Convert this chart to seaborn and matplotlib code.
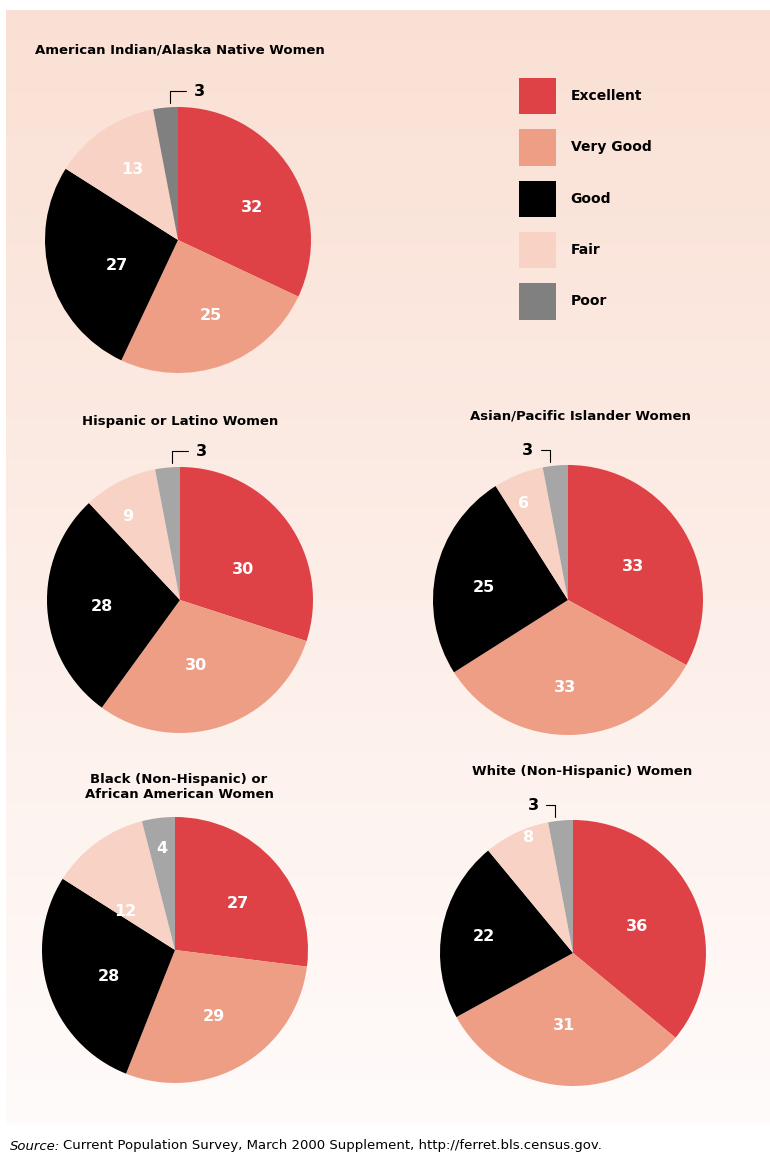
import numpy as np
import matplotlib
matplotlib.use("Agg")
import matplotlib.pyplot as plt
from matplotlib.patches import Patch
from matplotlib import font_manager
import seaborn as sns

# Data
categories = ['Excellent', 'Very Good', 'Good', 'Fair', 'Poor']
groups = ['American Indian/Alaska Native Women',
          'Hispanic or Latino Women',
          'Asian/Pacific Islander Women',
          'Black (Non-Hispanic) or\nAfrican American Women',
          'White (Non-Hispanic) Women']
american_indian = [32, 25, 27, 13, 3]
hispanic = [30, 30, 28, 9, 3]
asian = [33, 33, 25, 6, 3]
black = [27, 29, 28, 12, 4]
white = [36, 31, 22, 8, 3]
series = [american_indian, hispanic, asian, black, white]
source_note = 'Current Population Survey, March 2000 Supplement, http://ferret.bls.census.gov.'

# Style
sns.set_style('white')
plt.rcParams['font.family'] = ['DejaVu Sans']
plt.rcParams['text.color'] = 'black'
palette = sns.color_palette(['#de4246', '#ef9e86', '#000000', '#f8d2c4', '#808080'])
poor_colors = ['#808080', '#a6a6a6', '#a6a6a6', '#a6a6a6', '#a6a6a6']

W, H = 770, 1162
# pie centre x, centre y, radius, title x, title y (pixels)
layout = [(178, 240, 133, 180, 50),
          (180, 600, 133, 180, 421),
          (568, 600, 135, 580, 416),
          (175, 950, 133, 179, 787),
          (573, 953, 133, 582, 772)]
# label placement: fraction of radius and angle shift (deg) from wedge middle
label_dist = [[0.61, 0.62, 0.50, 0.63, 0.0],
              [0.53, 0.51, 0.59, 0.74, 0.0],
              [0.54, 0.65, 0.63, 0.79, 0.0],
              [0.59, 0.58, 0.54, 0.47, 0.77],
              [0.52, 0.55, 0.68, 0.93, 0.0]]
label_shift = [[-9, 4, 6, -1, 0],
               [-10, -4, 1.5, 5, 0],
               [-3, -4, 4, 3, 0],
               [-5, 0, 4, 16, 0],
               [-3, -2, 0, -4, 0]]
callout_side = ['right', 'right', 'left', None, 'left']

fig = plt.figure(figsize=(W / 100, H / 100), dpi=100)
fig.patch.set_facecolor('white')

# background panel with vertical gradient
bg = fig.add_axes([0, 0, 1, 1])
bg.set_xlim(0, W)
bg.set_ylim(H, 0)
bg.axis('off')
top = np.array([250, 224, 212]) / 255
bottom = np.array([255, 251, 250]) / 255
t = np.linspace(0, 1, 256)[:, None, None]
grad = top * (1 - t) + bottom * t
bg.imshow(grad, extent=(6, W, 1125, 10), aspect='auto')

for i, vals in enumerate(series):
    cx, cy, r, tx, ty = layout[i]
    ax = fig.add_axes([(cx - r) / W, 1 - (cy + r) / H, 2 * r / W, 2 * r / H])
    cols = list(palette[:4]) + [poor_colors[i]]
    wedges, _ = ax.pie(vals, colors=cols, startangle=90, counterclock=False,
                       radius=1, wedgeprops=dict(linewidth=0))
    ax.set_xlim(-1, 1)
    ax.set_ylim(-1, 1)
    ax.axis('off')
    for j, (w, v) in enumerate(zip(wedges, vals)):
        mid = np.deg2rad((w.theta1 + w.theta2) / 2)
        if v < 4 and callout_side[i]:
            right = callout_side[i] == 'right'
            a = mid + np.deg2rad(-2 if right else 2)
            ax.annotate(str(v), xy=(1.03 * np.cos(a), 1.03 * np.sin(a)),
                        xytext=(17 if right else -12, 8.5), textcoords='offset points',
                        ha='left' if right else 'right', va='center',
                        fontsize=11.5, fontweight='bold', color='black',
                        annotation_clip=False,
                        arrowprops=dict(arrowstyle='-', color='black', lw=0.8,
                                        shrinkA=3, shrinkB=0,
                                        relpos=(0, 0.5) if right else (1, 0.5),
                                        connectionstyle='angle,angleA=0,angleB=90,rad=0'))
        else:
            ang = mid + np.deg2rad(label_shift[i][j])
            d = label_dist[i][j]
            ax.text(d * np.cos(ang), d * np.sin(ang), str(v), ha='center', va='center',
                    fontsize=11.5, fontweight='bold', color='white')
    fig.text(tx / W, 1 - ty / H, groups[i], ha='center', va='center',
             fontsize=9.5, fontweight='bold', linespacing=1.15)

# legend
handles = [Patch(facecolor=c, edgecolor='none') for c in palette]
fig.legend(handles, categories, loc='upper left', bbox_to_anchor=(519 / W, 1 - 78 / H),
           frameon=False, borderpad=0, borderaxespad=0, handlelength=2.66, handleheight=3.65,
           handletextpad=1.05, labelspacing=1.08, prop=dict(weight='bold', size=10))

# source line
names = {f.name for f in font_manager.fontManager.ttflist}
if 'Liberation Sans Narrow' in names:
    narrow, fsize = 'Liberation Sans Narrow', 10
else:
    narrow, fsize = 'DejaVu Sans', 9.5
src = fig.text(10 / W, 1 - 1146 / H, 'Source:', style='italic', family=[narrow, 'DejaVu Sans'],
               fontsize=fsize, va='center', ha='left')
renderer = fig.canvas.get_renderer()
bb = src.get_window_extent(renderer)
fig.text((bb.x1 + 3) / W, 1 - 1146 / H, source_note, family=[narrow, 'DejaVu Sans'],
         fontsize=fsize, va='center', ha='left')

fig.savefig('out.png', dpi=100)
